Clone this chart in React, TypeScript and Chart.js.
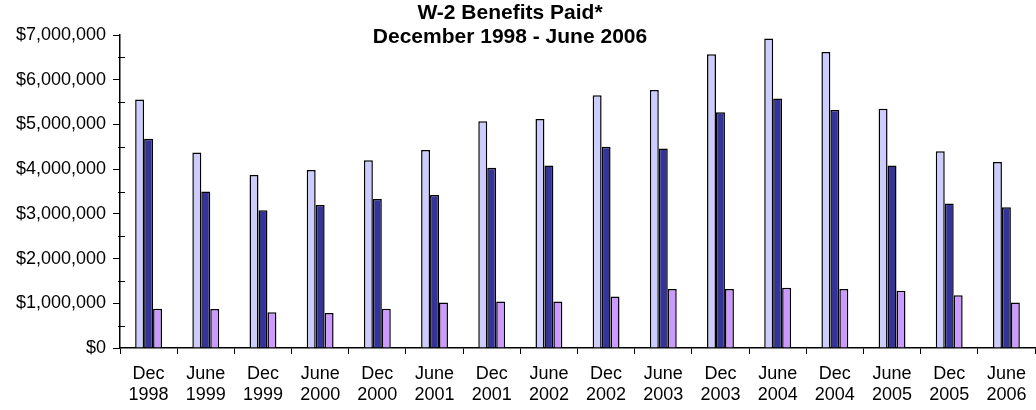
import { useEffect, useRef } from 'react'
import { Chart, registerables } from 'chart.js'

Chart.register(...registerables)

const periods = [
  ['Dec', '1998'], ['June', '1999'], ['Dec', '1999'], ['June', '2000'],
  ['Dec', '2000'], ['June', '2001'], ['Dec', '2001'], ['June', '2002'],
  ['Dec', '2002'], ['June', '2003'], ['Dec', '2003'], ['June', '2004'],
  ['Dec', '2004'], ['June', '2005'], ['Dec', '2005'], ['June', '2006'],
]
const seriesA = [5.56, 4.37, 3.87, 3.98, 4.2, 4.43, 5.07, 5.12, 5.65, 5.77, 6.57, 6.92, 6.62, 5.35, 4.4, 4.16]
const seriesB = [4.68, 3.5, 3.08, 3.2, 3.33, 3.42, 4.03, 4.08, 4.5, 4.46, 5.27, 5.58, 5.32, 4.08, 3.23, 3.15]
const seriesC = [0.88, 0.87, 0.8, 0.78, 0.88, 1.02, 1.04, 1.04, 1.15, 1.32, 1.32, 1.35, 1.32, 1.28, 1.18, 1.02]
const titleLines = ['W-2 Benefits Paid*', 'December 1998 - June 2006']

const M = (v: number[]) => v.map(x => x * 1000000)
const font = { family: 'Liberation Sans, Arial, sans-serif', size: 18 }

export default function App() {
  const ref = useRef<HTMLCanvasElement>(null)

  useEffect(() => {
    document.body.style.margin = '0'
    if (!ref.current) return
    const extras = {
      id: 'extras',
      afterDraw(chart: Chart) {
        const c = chart.ctx
        const y = chart.scales.y
        const x0 = chart.chartArea.left
        c.save()
        // minor ticks at half millions
        c.strokeStyle = '#000'
        c.lineWidth = 1
        for (let v = 500000; v < 7000000; v += 1000000) {
          const py = Math.round(y.getPixelForValue(v)) + 0.5
          c.beginPath()
          c.moveTo(x0 - 2, py)
          c.lineTo(x0 + 5, py)
          c.stroke()
        }
        c.fillStyle = '#000'
        c.font = 'bold 21px Liberation Sans, Arial, sans-serif'
        c.textAlign = 'center'
        c.textBaseline = 'middle'
        titleLines.forEach((t, i) => c.fillText(t, 510, 13 + i * 24))
        c.restore()
      },
    }
    const chart = new Chart(ref.current, {
      type: 'bar',
      data: {
        labels: periods,
        datasets: [
          { data: M(seriesA), backgroundColor: '#CCCCFF' },
          { data: M(seriesB), backgroundColor: '#333399' },
          { data: M(seriesC), backgroundColor: '#CC99FF' },
        ].map(d => ({ ...d, borderColor: '#000', borderWidth: 1.5, barPercentage: 1, categoryPercentage: 0.47 })),
      },
      options: {
        animation: false,
        responsive: false,
        layout: { padding: { top: 35, right: 1, left: 0, bottom: 0 } },
        plugins: { legend: { display: false }, tooltip: { enabled: false } },
        scales: {
          x: {
            afterFit: s => { s.height = 62 },
            grid: { offset: true, drawOnChartArea: false, color: '#000', tickLength: 6 },
            border: { color: '#000', width: 1.5 },
            ticks: { color: '#000', font, maxRotation: 0, autoSkip: false, padding: 9 },
          },
          y: {
            min: 0, max: 7000000,
            afterFit: s => { s.width = 120 },
            grid: { drawOnChartArea: false, color: '#000', tickLength: 7 },
            border: { color: '#000', width: 1.5 },
            ticks: {
              color: '#000', font, stepSize: 1000000, padding: 7,
              callback: v => '$' + Number(v).toLocaleString('en-US'),
            },
          },
        },
      },
      plugins: [extras],
    })
    return () => chart.destroy()
  }, [])

  return <canvas ref={ref} width={1036} height={410} />
}
